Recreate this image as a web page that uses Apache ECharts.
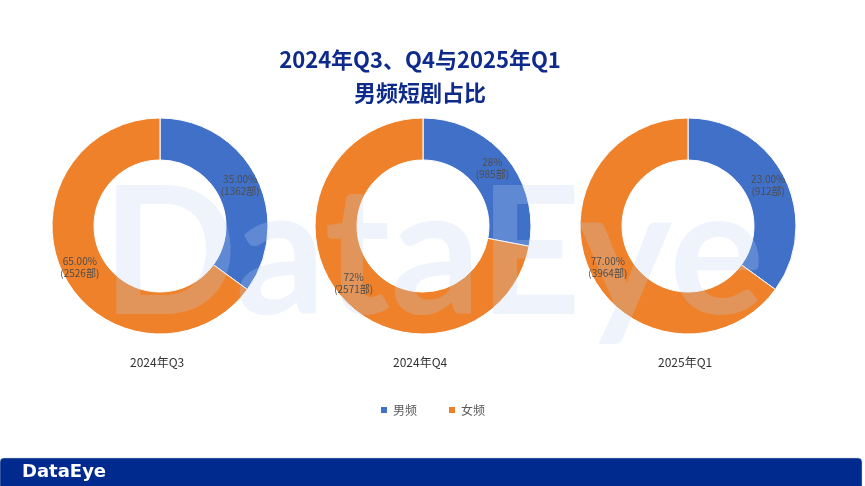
<!DOCTYPE html>
<html>
<head>
<meta charset="utf-8">
<script src="https://cdn.jsdelivr.net/npm/echarts@6/dist/echarts.min.js"></script>
<style>
html,body{margin:0;padding:0;background:#fff;}
#c{width:865px;height:486px;}
</style>
</head>
<body>
<div id="c"></div>
<script>
// ---- data ----
var periods = ['2024年Q3', '2024年Q4', '2025年Q1'];
var seriesNames = ['男频', '女频'];
// slice shares as drawn in the picture (male, female)
var maleShare = [35, 28, 35];
var femaleShare = [65, 72, 65];
// label texts as printed
var malePctLabel = ['35.00%', '28%', '23.00%'];
var femalePctLabel = ['65.00%', '72%', '77.00%'];
var maleCount = [1362, 985, 912];
var femaleCount = [2526, 2571, 3964];

var titleLines = ['2024年Q3、Q4与2025年Q1', '男频短剧占比'];

var colors = ['#4170C8', '#EE8129'];
var centersX = [160, 423, 688];
var cy = 226;
var font = '"Noto Sans CJK SC", "Noto Sans", sans-serif';

var chart = echarts.init(document.getElementById('c'), null, {renderer: 'canvas'});

function pieData(i, transparent) {
  return [
    {name: seriesNames[0], value: maleShare[i], pct: malePctLabel[i], cnt: maleCount[i],
     itemStyle: {color: transparent ? 'rgba(0,0,0,0)' : colors[0]}},
    {name: seriesNames[1], value: femaleShare[i], pct: femalePctLabel[i], cnt: femaleCount[i],
     itemStyle: {color: transparent ? 'rgba(0,0,0,0)' : colors[1]}}
  ];
}

var series = [];
periods.forEach(function (p, i) {
  // rings
  series.push({
    type: 'pie',
    name: p,
    center: [centersX[i], cy],
    radius: [66, 108],
    startAngle: 90,
    clockwise: true,
    silent: true,
    z: 2,
    itemStyle: {borderColor: '#fff', borderWidth: 1},
    label: {show: false},
    labelLine: {show: false},
    emphasis: {disabled: true},
    data: pieData(i, false)
  });
  // labels layer (above watermark)
  series.push({
    type: 'pie',
    name: p + '-label',
    center: [centersX[i], cy],
    radius: [66, 108],
    startAngle: 90,
    clockwise: true,
    silent: true,
    z: 200,
    legendHoverLink: false,
    itemStyle: {borderWidth: 0},
    label: {
      show: true,
      position: 'inside',
      color: '#4d4d4d',
      fontSize: 10,
      lineHeight: 12,
      fontFamily: font,
      formatter: function (params) {
        return params.data.pct + '\n(' + params.data.cnt + '部)';
      }
    },
    labelLine: {show: false},
    emphasis: {disabled: true},
    data: pieData(i, true)
  });
});

var graphics = [];
periods.forEach(function (p, i) {
  graphics.push({
    type: 'text', left: centersX[i] - 30, top: 356, z: 5,
    style: {text: p, fill: '#333', font: '12px ' + font, width: 60, align: 'center'}
  });
});
// watermark
graphics.push({
  type: 'text', x: 102, y: 168, z: 100, silent: true,
  style: {text: 'DataEye', fill: 'rgba(190,212,243,0.25)', font: 'bold 178px Lato, "DejaVu Sans", sans-serif'}
});
// footer banner
graphics.push({
  type: 'rect', z: 10,
  shape: {x: 0, y: 458, width: 862, height: 29, r: [4, 4, 0, 0]},
  style: {fill: '#012A8F', stroke: '#c8c8c8', lineWidth: 0.5}
});
graphics.push({
  type: 'text', x: 22, y: 463, z: 11,
  style: {text: 'DataEye', fill: '#fff', font: 'bold 18px "DejaVu Sans", sans-serif'}
});

chart.setOption({
  animation: false,
  backgroundColor: '#fff',
  color: colors,
  title: {
    text: titleLines.join('\n'),
    left: 415,
    textAlign: 'center',
    top: 38,
    textStyle: {color: '#0E2A8A', fontSize: 22, fontWeight: 'bold', lineHeight: 33, fontFamily: font}
  },
  legend: {
    data: seriesNames,
    left: 374,
    top: 399,
    icon: 'rect',
    itemWidth: 8,
    itemHeight: 8,
    itemGap: 30,
    textStyle: {color: '#595959', fontSize: 12, fontFamily: font}
  },
  graphic: graphics,
  series: series
});
</script>
</body>
</html>
